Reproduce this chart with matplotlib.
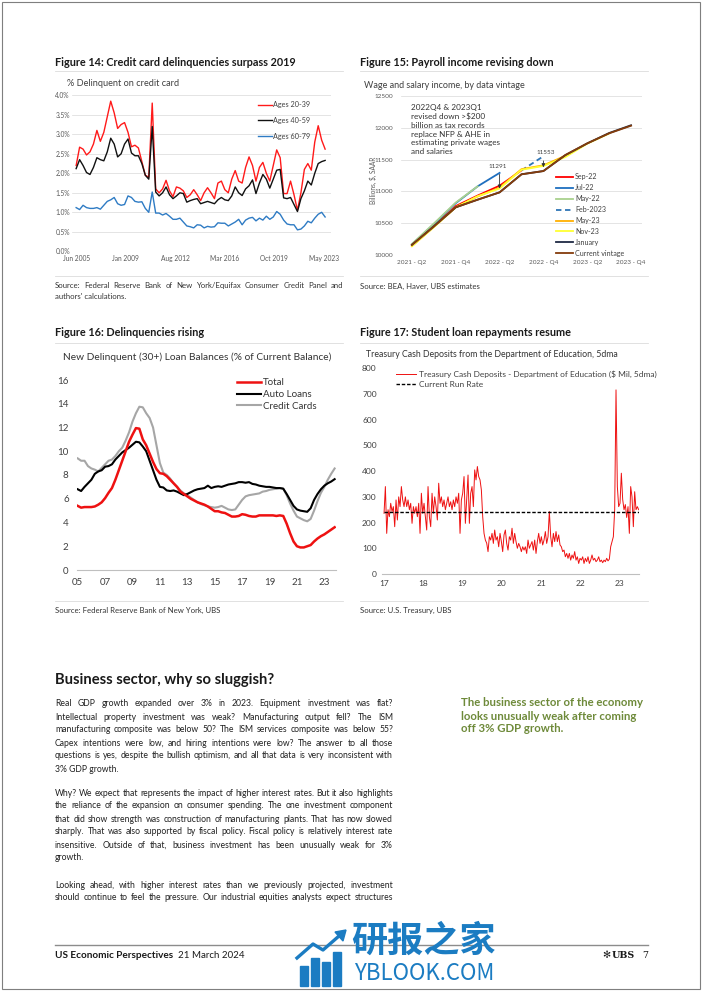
import numpy as np
import pandas as pd
import matplotlib.pyplot as plt
from matplotlib.lines import Line2D
from matplotlib.patches import Rectangle, Polygon

W, H = 702, 992
plt.rcParams['font.family'] = ['Lato', 'DejaVu Sans']
body_family = ['Liberation Sans Narrow', 'Lato', 'DejaVu Sans']

# ---------------- Figure 14: credit card delinquency by age (quarterly, Jun 2005 - May 2023)
f14_ticklabels = ['Jun 2005', 'Jan 2009', 'Aug 2012', 'Mar 2016', 'Oct 2019', 'May 2023']
f14_tickmonths = [0, 43, 86, 129, 172, 215]
ages_20_39 = [2.2, 2.67, 2.62, 2.47, 2.55, 2.75, 3.1, 2.82, 3.05, 3.45, 3.85, 3.55, 3.15,
              3.25, 3.3, 3.05, 2.68, 2.72, 2.65, 2.3, 1.95, 1.9, 3.8, 1.6, 1.5, 1.6, 1.82,
              1.55, 1.4, 1.65, 1.62, 1.55, 1.38, 1.45, 1.58, 1.45, 1.3, 1.5, 1.63, 1.5, 1.35,
              1.75, 1.8, 1.58, 1.5, 1.85, 2.07, 1.8, 1.75, 2.15, 2.42, 2.2, 1.8, 2.15, 2.28,
              2.0, 1.8, 2.2, 2.6, 2.4, 1.48, 1.48, 1.8, 1.45, 1.05, 1.5, 2.1, 2.25, 2.08,
              2.8, 3.22, 2.85, 2.62]
ages_40_59 = [2.12, 2.35, 2.2, 2.02, 1.97, 2.15, 2.4, 2.35, 2.32, 2.55, 2.9, 2.75, 2.42,
              2.5, 2.75, 2.88, 2.52, 2.45, 2.45, 2.25, 1.95, 1.85, 3.2, 1.52, 1.42, 1.5, 1.65,
              1.45, 1.35, 1.42, 1.5, 1.48, 1.26, 1.3, 1.33, 1.35, 1.22, 1.25, 1.28, 1.25, 1.22,
              1.32, 1.38, 1.32, 1.3, 1.42, 1.65, 1.5, 1.43, 1.6, 1.68, 1.83, 1.48, 1.75, 1.97,
              1.85, 1.62, 1.85, 2.08, 2.1, 1.37, 1.35, 1.38, 1.2, 1.02, 1.35, 1.55, 1.8, 1.7,
              2.0, 2.25, 2.3, 2.33]
ages_60_79 = [1.12, 1.07, 1.18, 1.12, 1.1, 1.1, 1.12, 1.08, 1.18, 1.28, 1.32, 1.38, 1.22,
              1.18, 1.2, 1.42, 1.38, 1.28, 1.26, 1.27, 1.1, 1.0, 1.52, 0.98, 0.98, 0.93, 0.97,
              0.9, 0.82, 0.82, 0.85, 0.75, 0.65, 0.63, 0.6, 0.68, 0.67, 0.6, 0.64, 0.62, 0.63,
              0.73, 0.72, 0.72, 0.65, 0.7, 0.75, 0.82, 0.68, 0.8, 0.85, 0.87, 0.78, 0.85, 0.8,
              0.9, 0.82, 0.88, 1.02, 0.95, 0.8, 0.7, 0.68, 0.68, 0.55, 0.57, 0.65, 0.77, 0.73,
              0.85, 0.95, 1.0, 0.88]

# ---------------- Figure 15: wage and salary income by vintage
f15_quarters = ['2021 - Q2', '2021 - Q3', '2021 - Q4', '2022 - Q1', '2022 - Q2', '2022 - Q3',
                '2022 - Q4', '2023 - Q1', '2023 - Q2', '2023 - Q3', '2023 - Q4']
nan = np.nan
vint_sep22 = [10150, 10455, 10770, 10935, 11090, 11330, nan, nan, nan, nan, nan]
vint_jul22 = [10165, 10485, 10815, 11080, 11291, nan, nan, nan, nan, nan, nan]
vint_may22 = [10175, 10495, 10825, 11080, nan, nan, nan, nan, nan, nan, nan]
vint_feb23 = [nan, nan, nan, nan, nan, 11330, 11553, nan, nan, nan, nan]
vint_may23 = [10140, 10440, 10750, 10920, 11060, 11350, 11410, 11560, nan, nan, nan]
vint_nov23 = [10140, 10440, 10750, 10925, 11045, 11340, 11400, 11540, 11750, 11910, nan]
vint_jan = [10160, 10450, 10750, 10870, 10985, 11270, 11320, 11570, 11755, 11918, 12040]
vint_current = [10160, 10450, 10750, 10870, 10985, 11268, 11320, 11572, 11755, 11913, 12033]

# ---------------- Figure 16: new delinquent balances, quarterly 2005Q1 - 2023Q4
f16_start = 2005
total = [5.4, 5.25, 5.3, 5.3, 5.3, 5.35, 5.5, 5.7, 6.05, 6.5, 6.9, 7.6, 8.4, 9.2, 10.0, 10.8,
         11.4, 11.95, 11.9, 11.0, 10.5, 9.8, 9.1, 8.5, 8.15, 8.1, 7.9, 7.6, 7.3, 7.0, 6.6, 6.4,
         6.2, 6.0, 5.85, 5.7, 5.6, 5.5, 5.35, 5.15, 4.95, 4.95, 4.85, 4.8, 4.65, 4.5, 4.5, 4.55,
         4.7, 4.65, 4.55, 4.5, 4.5, 4.6, 4.6, 4.6, 4.6, 4.6, 4.55, 4.6, 4.55, 3.9, 3.1, 2.4,
         2.0, 1.9, 1.9, 2.0, 2.1, 2.4, 2.65, 2.85, 3.0, 3.2, 3.4, 3.6]
auto_loans = [6.8, 6.65, 7.0, 7.3, 7.6, 8.1, 8.3, 8.4, 8.7, 8.75, 8.9, 9.3, 9.6, 9.9, 10.1, 10.3,
              10.55, 10.8, 10.75, 10.4, 10.0, 9.2, 8.4, 7.6, 7.0, 6.95, 6.7, 6.65, 6.7, 6.6, 6.45, 6.3,
              6.4, 6.55, 6.7, 6.8, 6.85, 6.9, 7.1, 6.9, 7.0, 7.05, 7.0, 7.1, 7.2, 7.25, 7.3, 7.4,
              7.4, 7.35, 7.4, 7.25, 7.2, 7.1, 7.05, 7.0, 7.0, 6.95, 6.9, 6.9, 6.85, 6.4, 5.9, 5.4,
              5.1, 5.0, 4.95, 4.9, 5.2, 5.9, 6.4, 6.8, 7.1, 7.3, 7.45, 7.65]
credit_cards = [9.4, 9.2, 9.2, 8.75, 8.55, 8.45, 8.3, 8.6, 8.9, 9.2, 9.3, 9.6, 10.0, 10.3, 10.9, 11.6,
                12.5, 13.2, 13.75, 13.7, 13.2, 12.8, 12.0, 10.5, 9.0, 8.2, 8.0, 7.7, 7.3, 7.0, 6.7, 6.45,
                6.3, 6.1, 5.9, 5.7, 5.55, 5.45, 5.35, 5.3, 5.25, 5.3, 5.4, 5.25, 5.1, 5.05, 5.1, 5.5,
                5.9, 6.2, 6.3, 6.35, 6.4, 6.45, 6.6, 6.65, 6.75, 6.8, 6.85, 6.9, 6.85, 6.3, 5.6, 5.0,
                4.5, 4.35, 4.2, 4.1, 4.3, 5.0, 5.8, 6.5, 7.0, 7.6, 8.1, 8.55]

# ---------------- Figure 17: Treasury cash deposits, Dept of Education (sampled ~12 days)
deposits = [236, 340, 158, 250, 223, 275, 243, 262, 184, 288, 210, 300, 262, 340, 288, 262,
            300, 262, 288, 250, 275, 197, 262, 236, 262, 223, 275, 158, 314, 236, 275, 223,
            171, 340, 223, 184, 314, 236, 300, 262, 210, 353, 275, 300, 262, 288, 250, 275,
            300, 262, 281, 250, 288, 262, 300, 275, 314, 158, 288, 314, 379, 197, 288, 385,
            197, 314, 340, 262, 405, 366, 418, 379, 366, 327, 223, 158, 132, 120, 87, 145,
            132, 158, 119, 171, 132, 145, 106, 158, 126, 87, 152, 171, 119, 93, 145, 132,
            178, 119, 158, 126, 100, 119, 106, 87, 106, 93, 106, 80, 132, 100, 113, 126,
            93, 132, 80, 126, 158, 119, 145, 113, 132, 165, 119, 145, 243, 145, 106, 158,
            126, 165, 126, 152, 113, 106, 87, 93, 67, 80, 61, 80, 54, 74, 61, 87,
            54, 67, 41, 61, 54, 67, 41, 61, 48, 67, 41, 54, 74, 54, 61, 48,
            54, 67, 48, 54, 44, 54, 48, 61, 51, 58, 106, 126, 145, 250, 716, 340,
            262, 275, 392, 290, 250, 270, 220, 262, 158, 340, 300, 184, 320, 250, 262, 250]
run_rate = 240
f17_years = [2017, 2018, 2019, 2020, 2021, 2022, 2023]

fig = plt.figure(figsize=(W / 100, H / 100), dpi=100)
renderer = fig.canvas.get_renderer()


def px_axes(x0, y0, x1, y1):
    return fig.add_axes([x0 / W, 1 - y1 / H, (x1 - x0) / W, (y1 - y0) / H])


def put(x, y, s, **kw):
    kw.setdefault('va', 'center')
    kw.setdefault('color', '#1a1a1a')
    return fig.text(x / W, 1 - y / H, s, **kw)


def rule(x0, x1, y, color='#dcdcdc', lw=0.6):
    fig.add_artist(Line2D([x0 / W, x1 / W], [1 - y / H, 1 - y / H], color=color, lw=lw))


def word_widths(line, size, family):
    out = []
    for w in line.split():
        t = put(0, 0, w, size=size, family=family)
        out.append(t.get_window_extent(renderer).width)
        t.remove()
    return out


def fit_size(lines, width, family, probe=7.5, min_gap_em=0.26):
    best = probe
    for line in lines:
        ws = word_widths(line, probe, family)
        n = len(ws) - 1
        s = width / (sum(ws) / probe + n * min_gap_em * 100 / 72)
        best = min(best, s)
    return best


def justify(lines, x0, x1, y0, step, size, last_free=True, **kw):
    # y0 is the baseline of the first line
    for i, line in enumerate(lines):
        y = y0 + i * step
        words = line.split()
        if (i == len(lines) - 1 and last_free) or len(words) < 2:
            put(x0, y, line, size=size, va='baseline', **kw)
            continue
        objs = [put(x0, y, w, size=size, va='baseline', **kw) for w in words]
        widths = [o.get_window_extent(renderer).width for o in objs]
        gap = (x1 - x0 - sum(widths)) / (len(words) - 1)
        x = x0
        for o, w in zip(objs, widths):
            o.set_x(x / W)
            x += w + gap


def clean(ax, size, pad_x, pad_y, color='#595959'):
    for s in ax.spines.values():
        s.set_visible(False)
    ax.tick_params(axis='both', length=0, labelsize=size, colors=color)
    ax.tick_params(axis='x', pad=pad_x)
    ax.tick_params(axis='y', pad=pad_y)


title_size = 7.8

# ===== Figure 14
put(55, 62, 'Figure 14: Credit card delinquencies surpass 2019', size=title_size, weight='bold')
rule(55, 343, 71)
put(67, 84, '% Delinquent on credit card', size=6.6, color='#404040')
ax = px_axes(72, 95.3, 331, 251.3)
x14 = np.arange(len(ages_20_39))
ax.plot(x14, ages_20_39, color='#ff1a1a', lw=1.0, label='Ages 20-39')
ax.plot(x14, ages_40_59, color='#111111', lw=1.0, label='Ages 40-59')
ax.plot(x14, ages_60_79, color='#2e7bc4', lw=1.0, label='Ages 60-79')
ax.set_xlim(-1.2, 73.7)
ax.set_ylim(0, 4)
yt = np.arange(0, 4.01, 0.5)
ax.set_yticks(yt)
ax.set_yticklabels([f'{v:.1f}%' for v in yt])
ax.set_xticks([m / 3 for m in f14_tickmonths])
ax.set_xticklabels(f14_ticklabels)
ax.grid(axis='y', color='#d9d9d9', lw=0.5)
ax.set_axisbelow(True)
clean(ax, 4.8, 3, 1.5)
ax.legend(loc='upper left', bbox_to_anchor=(0.705, 0.985), frameon=False, fontsize=5.2,
          handlelength=1.9, handletextpad=0.2, labelspacing=1.2, borderpad=0,
          labelcolor='#404040')
rule(55, 343, 276)
src14 = ['Source: Federal Reserve Bank of New York/Equifax Consumer Credit Panel and',
         "authors' calculations."]
justify(src14, 55, 343, 288, 11, 5.6, color='#333333')

# ===== Figure 15
put(360, 62, 'Figure 15: Payroll income revising down', size=title_size, weight='bold')
rule(360, 648, 71)
put(364, 86, 'Wage and salary income, by data vintage', size=6.5, color='#404040')
ax = px_axes(401, 96, 642, 255)
x15 = np.arange(len(f15_quarters))
series15 = [(vint_sep22, 'Sep-22', '#ff0000', '-'),
            (vint_jul22, 'Jul-22', '#1f6fbf', '-'),
            (vint_may22, 'May-22', '#a9d18e', '-'),
            (vint_feb23, 'Feb-2023', '#2e75b6', (0, (3, 2))),
            (vint_may23, 'May-23', '#ffb000', '-'),
            (vint_nov23, 'Nov-23', '#ffff33', '-'),
            (vint_jan, 'January', '#1f2a44', '-'),
            (vint_current, 'Current vintage', '#843c0c', '-')]
for vals, lab, col, ls in series15:
    ax.plot(x15, vals, color=col, lw=1.3, ls=ls, label=lab)
ax.set_xlim(-0.5, len(f15_quarters) - 0.5)
ax.set_ylim(10000, 12500)
ax.set_yticks(np.arange(10000, 12501, 500))
ax.set_xticks(x15[::2])
ax.set_xticklabels(f15_quarters[::2])
ax.grid(axis='y', color='#d9d9d9', lw=0.5)
ax.set_axisbelow(True)
clean(ax, 4.6, 3.5, 5.5)
ax.legend(loc='upper left', bbox_to_anchor=(0.63, 0.535), frameon=False, fontsize=5.1,
          handlelength=2.3, handletextpad=0.35, labelspacing=0.55, borderpad=0,
          labelcolor='#404040')
ax.annotate('', xy=(4, vint_current[4] + 15), xytext=(4, vint_jul22[4] + 20),
            arrowprops=dict(arrowstyle='-|>', color='#333333', lw=0.6, mutation_scale=5))
ax.text(3.9, vint_jul22[4] + 95, '11291', fontsize=4.6, ha='center', va='center', color='#404040')
ax.annotate('', xy=(6, vint_current[6] + 15), xytext=(6, vint_feb23[6] - 30),
            arrowprops=dict(arrowstyle='-|>', color='#333333', lw=0.6, mutation_scale=5))
ax.text(6.1, vint_feb23[6] + 60, '11553', fontsize=4.6, ha='center', va='center', color='#404040')
ax.text(0.04, 0.95, '2022Q4 & 2023Q1\nrevised down >$200\nbillion as tax records\n'
        'replace NFP & AHE in\nestimating private wages\nand salaries',
        transform=ax.transAxes, fontsize=5.9, va='top', ha='left', color='#333333',
        linespacing=1.28)
put(373, 180, 'Billions, $, SAAR', size=4.7, rotation=90, ha='center', color='#595959')
rule(360, 648, 276)
put(360, 286, 'Source: BEA, Haver, UBS estimates', size=5.6, color='#333333')

# ===== Figure 16
put(55, 332, 'Figure 16: Delinquencies rising', size=title_size, weight='bold')
rule(55, 343, 342.7)
put(63, 357, 'New Delinquent (30+) Loan Balances (% of Current Balance)', size=7.3, color='#333333')
ax = px_axes(77, 380, 336, 570)
x16 = f16_start + np.arange(len(total)) / 4
l_cc, = ax.plot(x16, credit_cards, color='#a6a6a6', lw=1.5)
l_auto, = ax.plot(x16, auto_loans, color='#000000', lw=1.5)
l_tot, = ax.plot(x16, total, color='#ee1111', lw=1.8)
ax.set_xlim(2004.95, 2023.85)
ax.set_ylim(0, 16)
ax.set_yticks(np.arange(0, 17, 2))
yrs16 = np.arange(2005, 2024, 2)
ax.set_xticks(yrs16)
ax.set_xticklabels([f'{y % 100:02d}' for y in yrs16])
clean(ax, 7.0, 6, 6, color='#404040')
ax.spines['bottom'].set_visible(True)
ax.spines['bottom'].set_color('#bfbfbf')
ax.spines['bottom'].set_linewidth(0.8)
ax.legend([l_tot, l_auto, l_cc], ['Total', 'Auto Loans', 'Credit Cards'], loc='upper left',
          bbox_to_anchor=(0.6, 1.035), frameon=False, fontsize=7.0, handlelength=2.4,
          handletextpad=0.2, labelspacing=0.28, borderpad=0, labelcolor='#333333')
rule(55, 343, 600.7)
put(55, 610, 'Source: Federal Reserve Bank of New York, UBS', size=5.6, color='#333333')

# ===== Figure 17
put(360, 332, 'Figure 17: Student loan repayments resume', size=title_size, weight='bold')
rule(360, 648, 342.7)
put(366, 354, 'Treasury Cash Deposits from the Department of Education, 5dma', size=6.3,
    color='#333333')
ax = px_axes(382, 368.3, 639, 574)
dates17 = pd.date_range('2017-01-01', '2023-06-28', periods=len(deposits))
ax.plot(dates17, deposits, color='#ee1111', lw=0.7,
        label='Treasury Cash Deposits - Department of Education ($ Mil, 5dma)')
ax.plot([dates17[0], dates17[-1]], [run_rate, run_rate], color='black', lw=1.0,
        dashes=(2.5, 1.3), label='Current Run Rate')
ax.set_xlim(pd.Timestamp('2016-12-13'), pd.Timestamp('2023-07-01'))
ax.set_ylim(0, 800)
ax.set_yticks(np.arange(0, 801, 100))
ax.set_xticks([pd.Timestamp(f'{y}-01-01') for y in f17_years])
ax.set_xticklabels([f'{y % 100:02d}' for y in f17_years])
clean(ax, 6.0, 4.3, 3.8, color='#404040')
ax.spines['bottom'].set_visible(True)
ax.spines['bottom'].set_color('#bfbfbf')
ax.spines['bottom'].set_linewidth(0.8)
ax.legend(loc='upper left', bbox_to_anchor=(0.04, 1.01), frameon=False, fontsize=6.0,
          handlelength=2.4, handletextpad=0.3, labelspacing=0.4, borderpad=0,
          labelcolor='#404040')
rule(360, 648, 600.7)
put(360, 610, 'Source: U.S. Treasury, UBS', size=5.6, color='#333333')

# ===== body text
put(55, 680, 'Business sector, why so sluggish?', size=10.6, weight='bold')
para1 = ['Real GDP growth expanded over 3% in 2023. Equipment investment was flat?',
         'Intellectual property investment was weak? Manufacturing output fell? The ISM',
         'manufacturing composite was below 50? The ISM services composite was below 55?',
         'Capex intentions were low, and hiring intentions were low? The answer to all those',
         'questions is yes, despite the bullish optimism, and all that data is very inconsistent with',
         '3% GDP growth.']
para2 = ['Why? We expect that represents the impact of higher interest rates. But it also highlights',
         'the reliance of the expansion on consumer spending. The one investment component',
         'that did show strength was construction of manufacturing plants. That has now slowed',
         'sharply. That was also supported by fiscal policy. Fiscal policy is relatively interest rate',
         'insensitive. Outside of that, business investment has been unusually weak for 3%',
         'growth.']
para3 = ['Looking ahead, with higher interest rates than we previously projected, investment',
         'should continue to feel the pressure. Our industrial equities analysts expect structures']
body_size = fit_size(para1[:-1] + para2[:-1] + para3, 393 - 55, body_family)
body_kw = dict(color='#222222', family=body_family)
justify(para1, 55, 393, 706.5, 13, body_size, **body_kw)
justify(para2, 55, 393, 795.5, 13, body_size, **body_kw)
justify(para3, 55, 393, 887.5, 13, body_size, last_free=False, **body_kw)
for i, line in enumerate(['The business sector of the economy', 'looks unusually weak after coming',
                          'off 3% GDP growth.']):
    put(461, 703 + 13 * i, line, size=8.2, weight='bold', color='#6e8a3a')

# ===== footer
rule(55, 648, 945, color='#8c8c8c', lw=1.0)
put(55, 955, 'US Economic Perspectives', size=7.2, weight='bold')
put(178, 955, '21 March 2024', size=7.0)
put(606, 955, '\u273b', size=7.0, family='DejaVu Sans', ha='center')
put(612, 955, 'UBS', size=6.8, weight='bold', family='DejaVu Serif', ha='left')
put(648, 955, '7', size=6.8, family='DejaVu Serif', ha='right')

# watermark
blue = '#1b7cc2'
put(351, 941, '研报之家', size=26, family=['Noto Sans CJK SC', 'DejaVu Sans'], weight='bold',
    color=blue)
put(354, 973, 'YBLOOK.COM', size=16, family=['Noto Sans CJK SC', 'DejaVu Sans'], color=blue)
for bx, top in [(300, 966), (311, 958), (322, 962), (333, 952)]:
    fig.add_artist(Rectangle((bx / W, 1 - 986 / H), 8 / W, (986 - top) / H, color=blue,
                             transform=fig.transFigure))
fig.add_artist(Line2D([297 / W, 313 / W, 323 / W, 339 / W],
                      [1 - 958 / H, 1 - 944 / H, 1 - 950 / H, 1 - 936 / H], color=blue, lw=2.4))
fig.add_artist(Polygon([(335 / W, 1 - 932 / H), (346 / W, 1 - 930 / H), (343 / W, 1 - 941 / H)],
                       closed=True, color=blue, transform=fig.transFigure))

# page border
fig.add_artist(Rectangle((2 / W, 3 / H), 698 / W, 987 / H, fill=False, ec='#7f7f7f', lw=0.8,
                         transform=fig.transFigure))

fig.savefig('out.png', dpi=100)
